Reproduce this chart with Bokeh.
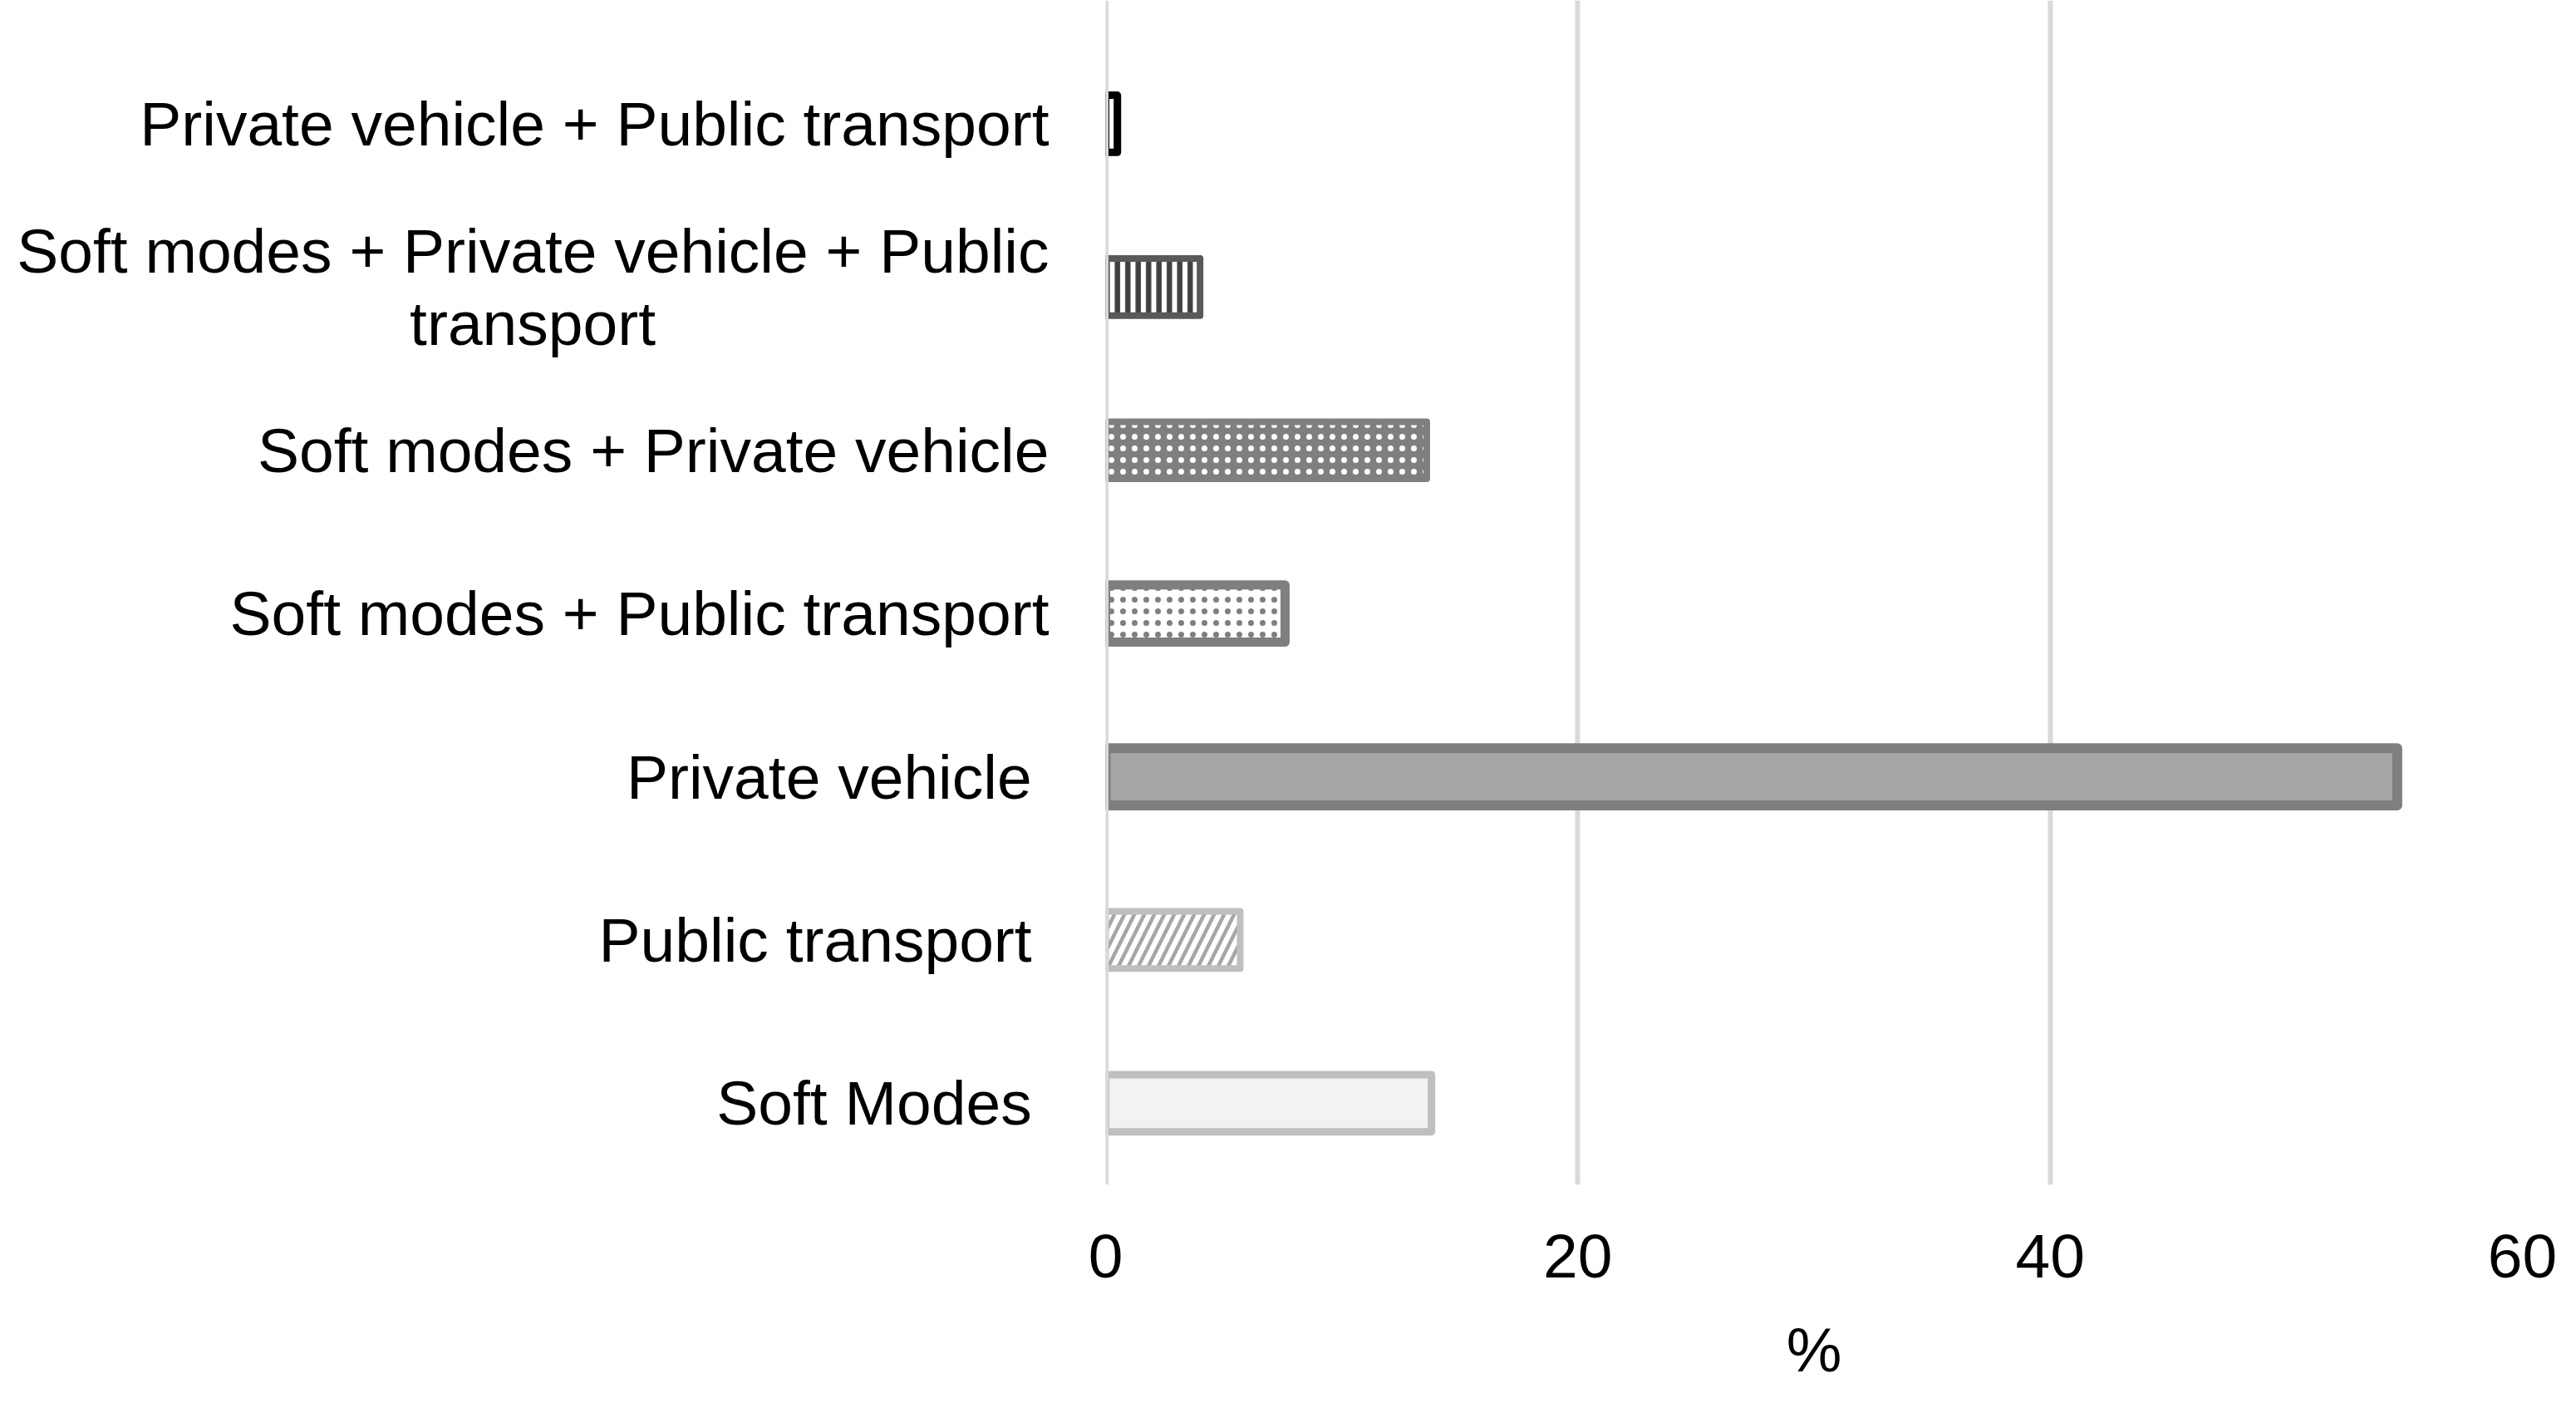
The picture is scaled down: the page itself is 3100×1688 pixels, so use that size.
from bokeh.plotting import figure
from bokeh.models import ColumnDataSource, Range1d, FixedTicker, Span
from bokeh.embed import file_html
from bokeh.resources import INLINE

# ---- data (bottom to top) ----
categories = [
    "Soft Modes ",
    "Public transport ",
    "Private vehicle ",
    "Soft modes + Public transport",
    "Soft modes + Private vehicle",
    "Soft modes + Private vehicle + Public\ntransport",
    "Private vehicle + Public transport",
]
values = [13.8, 5.7, 54.7, 7.6, 13.6, 4.0, 0.5]
x_ticks = [0, 20, 40, 60]
x_label = "%"

# ---- styles ----
fill_colors = ["#F2F2F2", "#FFFFFF", "#A6A6A6", "#FFFFFF", "#7F7F7F", "#FFFFFF", "#FFFFFF"]
line_colors = ["#BFBFBF", "#BFBFBF", "#7F7F7F", "#7F7F7F", "#7F7F7F", "#595959", "#000000"]
line_widths = [9, 8, 12, 11, 8, 8, 9]
hatch_patterns = [" ", "right_diagonal_line", " ", "dot", "dot", "vertical_line", " "]
hatch_colors = ["#A6A6A6", "#A6A6A6", "#A6A6A6", "#7F7F7F", "#FFFFFF", "#404040", "#000000"]
hatch_scales = [12, 24, 12, 14, 14, 12.5, 12]
hatch_weights = [1, 4.5, 1, 1, 1, 6.5, 1]

FONT = "Liberation Sans"
FS = "75px"
NBSP = "\u00a0"
THIN = "\u2009"


def centred_lines(label):
    # axis labels are right-aligned line by line; pad the short second line so it
    # sits centred under the first one, as in the original chart
    lines = label.split("\n")
    if len(lines) == 1:
        return label
    return lines[0] + "\n" + lines[1] + NBSP * 22 + THIN


src = ColumnDataSource(dict(
    y=list(range(len(categories))),
    value=values,
    fill=fill_colors,
    line=line_colors,
    lw=line_widths,
    hp=hatch_patterns,
    hc=hatch_colors,
    hs=hatch_scales,
    hw=hatch_weights,
))

p = figure(
    width=3092, height=1686,
    x_range=Range1d(x_ticks[0], x_ticks[-1]), y_range=Range1d(-0.5, 6.756),
    output_backend="svg", toolbar_location=None,
    min_border_left=1330, min_border_right=57,
    min_border_top=0, min_border_bottom=261,
)
p.outline_line_color = None
p.background_fill_color = "white"
p.border_fill_color = "white"

p.hbar(
    y="y", left=x_ticks[0], right="value", height=0.35, source=src,
    fill_color="fill", line_color="line", line_width="lw",
    hatch_pattern="hp", hatch_color="hc", hatch_scale="hs", hatch_weight="hw",
    line_join="round",
)

p.xgrid.grid_line_color = "#D9D9D9"
p.xgrid.grid_line_width = 6
p.ygrid.visible = False
# value axis baseline drawn over the bars' left edges
p.add_layout(Span(location=x_ticks[0], dimension="height", line_color="#D9D9D9",
                  line_width=7, level="overlay"))

xa = p.xaxis[0]
xa.ticker = FixedTicker(ticks=x_ticks)
xa.axis_label = x_label
xa.axis_line_color = None
xa.major_tick_line_color = None
xa.minor_tick_line_color = None
xa.major_label_text_font = FONT
xa.major_label_text_font_size = FS
xa.major_label_text_color = "black"
xa.major_label_standoff = 54
xa.axis_label_text_font = FONT
xa.axis_label_text_font_size = FS
xa.axis_label_text_font_style = "normal"
xa.axis_label_text_color = "black"
xa.axis_label_standoff = 42

ya = p.yaxis[0]
ya.ticker = FixedTicker(ticks=list(range(len(categories))))
ya.major_label_overrides = {i: centred_lines(c) for i, c in enumerate(categories)}
ya.axis_line_color = None
ya.major_tick_line_color = None
ya.minor_tick_line_color = None
ya.major_label_text_font = FONT
ya.major_label_text_font_size = FS
ya.major_label_text_color = "black"
ya.major_label_text_line_height = 1.03
ya.major_label_standoff = 62

open("out.html", "w").write(file_html(p, INLINE))
